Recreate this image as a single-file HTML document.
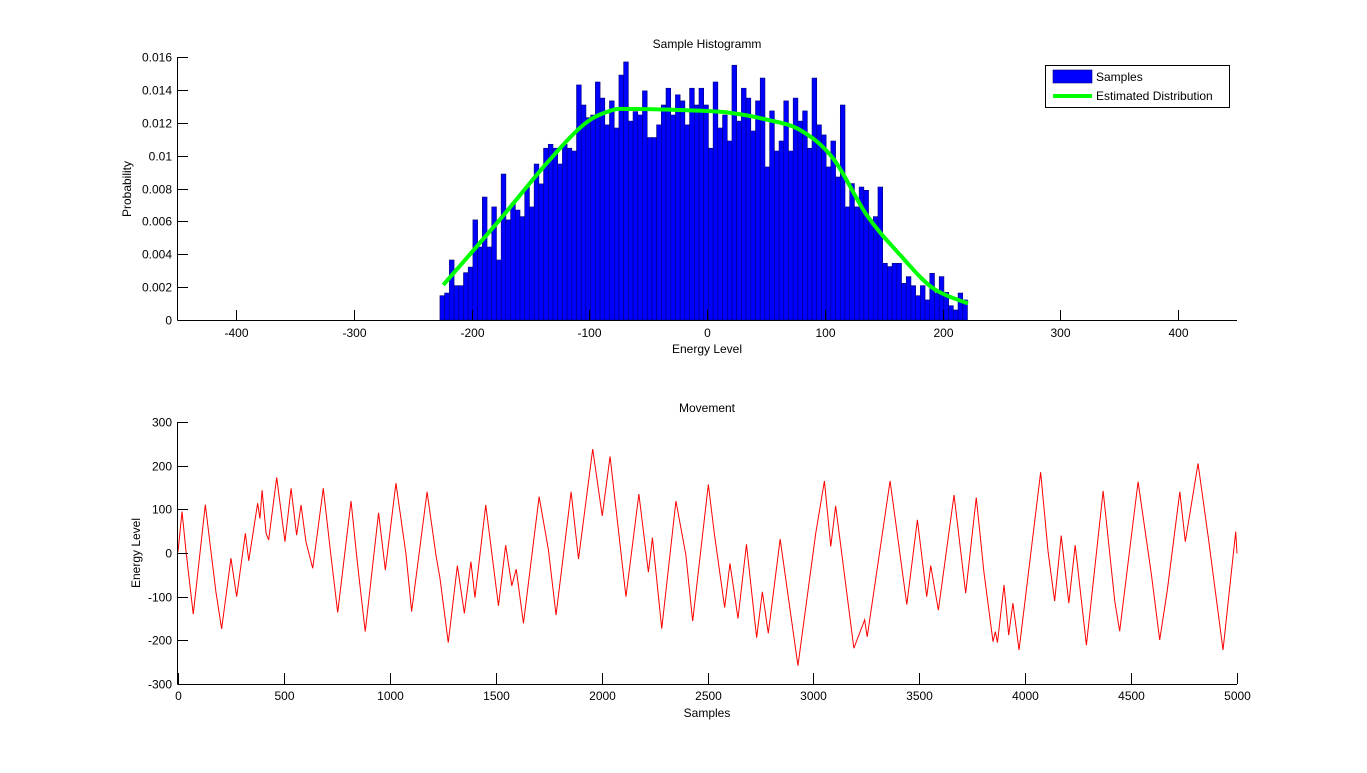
<!DOCTYPE html>
<html><head><meta charset="utf-8"><style>
body{margin:0;background:#fff;}
svg text{font-family:"Liberation Sans",Arial,sans-serif;font-size:12px;fill:#000;}
</style></head><body>
<svg id="fig" width="1367" height="768" viewBox="0 0 1367 768">
<rect width="1367" height="768" fill="#fff"/>
<g id="topchart"></g>
<g id="botchart"></g>
</svg>
<script>
const histValues=[1.48,1.64,3.65,2.09,2.09,2.88,3.22,6.09,4.44,7.48,4.44,6.88,3.65,8.88,6.09,7.08,6.69,6.29,8.07,6.88,9.49,8.28,10.45,10.69,10.45,9.49,10.69,10.45,10.28,14.3,13.08,12.31,12.47,14.48,13.5,11.87,13.33,11.68,14.9,15.7,12.1,12.68,12.47,13.94,11.1,11.1,11.87,13.08,14.1,12.47,13.7,13.33,11.87,14.1,13.08,14.1,13.08,10.45,14.48,11.68,12.47,10.89,15.5,12.1,14.1,13.5,11.5,13.33,14.72,9.31,12.72,10.28,10.89,13.33,10.28,13.5,12.1,12.72,10.45,14.72,11.87,11.26,9.31,10.89,8.7,13.08,6.88,8.3,6.88,8.09,7.89,6.09,6.29,8.09,3.45,3.25,3.45,3.45,2.23,2.64,2.09,1.48,2.09,1.22,2.84,1.64,2.64,1.68,0.87,0.61,1.64,1.22];
const binStart=-226.8, binWidth=4;
const fitX=[-224,-178.6,-136.2,-105,-82.4,-65,-8.7,20,50,79,107,135.6,164,192,221.6];
const fitY=[2.13,5.88,9.53,11.87,12.72,12.84,12.74,12.6,12.2,11.56,9.84,6.39,3.96,1.93,1.01];
const histXTicks=[-400,-300,-200,-100,0,100,200,300,400];
const histYTicks=[0,0.002,0.004,0.006,0.008,0.01,0.012,0.014,0.016];
const moveS=[0,19,38,72,129,148,179,206,250,277,318,334,376,387,397,416,428,466,505,534,560,581,604,636,686,718,754,817,848,884,947,979,1029,1077,1103,1176,1218,1237,1276,1319,1352,1383,1402,1453,1513,1547,1576,1597,1631,1705,1749,1785,1856,1891,1958,2003,2040,2115,2176,2221,2240,2284,2351,2398,2430,2504,2531,2581,2606,2644,2684,2732,2759,2787,2843,2927,3011,3052,3082,3105,3191,3242,3254,3362,3441,3491,3535,3554,3590,3664,3719,3769,3805,3848,3859,3869,3900,3922,3942,3971,4073,4108,4139,4170,4206,4236,4289,4368,4423,4446,4533,4596,4635,4671,4730,4756,4816,4866,4934,4994,5000];
const moveV=[3,95,3,-140,111,34,-89,-174,-12,-100,45,-18,114,79,144,45,30,173,26,148,41,110,26,-35,148,11,-136,119,-27,-180,92,-39,160,-5,-134,140,-5,-58,-205,-29,-138,-20,-102,110,-121,18,-75,-37,-161,129,7,-142,140,-14,238,85,221,-100,135,-44,35,-173,119,-5,-156,157,49,-125,-24,-150,20,-194,-89,-184,32,-258,45,165,15,108,-218,-153,-192,165,-118,76,-100,-29,-131,133,-92,127,-43,-203,-180,-205,-73,-188,-115,-222,185,3,-110,40,-115,18,-211,142,-111,-179,163,-50,-199,-85,140,26,205,30,-222,49,-1];
const moveXTicks=[0,500,1000,1500,2000,2500,3000,3500,4000,4500,5000];
const moveYTicks=[-300,-200,-100,0,100,200,300];

const NS='http://www.w3.org/2000/svg';
function mk(tag,attrs,parent){const e=document.createElementNS(NS,tag);for(const k in attrs)e.setAttribute(k,attrs[k]);parent.appendChild(e);return e;}
function txt(s,x,y,anchor,parent){const t=mk('text',{x:x,y:y,'text-anchor':anchor},parent);t.textContent=s;return t;}

const topG=document.getElementById('topchart');
const hx=v=>707+(v)*1.1775;
const hy=v=>320-v*16437.5;
const bars=mk('g',{},topG);


histValues.forEach((v,i)=>{
  const x0=hx(binStart+i*binWidth), x1=hx(binStart+(i+1)*binWidth);
  const r=mk('rect',{x:x0,y:hy(v/1000),width:x1-x0,height:320-hy(v/1000),fill:'#0000ff',stroke:'#00007a','stroke-width':0.6},bars);
  
  
});
let pts=fitX.map((x,i)=>[hx(x),hy(fitY[i]/1000)]);
let d='M'+pts[0][0]+','+pts[0][1];
for(let i=0;i<pts.length-1;i++){const p0=pts[Math.max(0,i-1)],p1=pts[i],p2=pts[i+1],p3=pts[Math.min(pts.length-1,i+2)];
 d+=` C${p1[0]+(p2[0]-p0[0])/6},${p1[1]+(p2[1]-p0[1])/6} ${p2[0]-(p3[0]-p1[0])/6},${p2[1]-(p3[1]-p1[1])/6} ${p2[0]},${p2[1]}`;}
const fit=mk('path',{d:d,fill:'none',stroke:'#00ff00','stroke-width':4,'stroke-linejoin':'round'},topG);


mk('line',{x1:177.5,y1:57,x2:177.5,y2:320.5,stroke:'#000'},topG);
mk('line',{x1:177.5,y1:320.5,x2:1237,y2:320.5,stroke:'#000'},topG);
histXTicks.forEach(v=>{const x=Math.round(hx(v))+0.5;mk('line',{x1:x,y1:320,x2:x,y2:310,stroke:'#000'},topG);
 const t=txt(String(v),x,337,'middle',topG);});
histYTicks.forEach(v=>{const y=Math.round(hy(v))+0.5;mk('line',{x1:178,y1:y,x2:188,y2:y,stroke:'#000'},topG);
 const t=txt(String(v),172,y+4,'end',topG);});
let t=txt('Sample Histogramm',707,48,'middle',topG);
t=txt('Energy Level',707,353,'middle',topG);
t=txt('Probability',0,0,'middle',topG);t.setAttribute('transform','translate(131,189) rotate(-90)');
const lg=mk('g',{},topG);


mk('rect',{x:1045.5,y:65.5,width:184,height:42,fill:'#fff',stroke:'#000'},lg);
mk('rect',{x:1053,y:70,width:39,height:13,fill:'#0000ff',stroke:'#00007a','stroke-width':0.6},lg);
t=txt('Samples',1096,81,'start',lg);
mk('line',{x1:1053,y1:96,x2:1092,y2:96,stroke:'#00ff00','stroke-width':4},lg);
t=txt('Estimated Distribution',1096,100,'start',lg);

const botG=document.getElementById('botchart');
const mx=s=>178+s*0.2118;
const my=v=>553-v*0.4367;
const ln=mk('polyline',{points:moveS.map((s,i)=>mx(s)+','+my(moveV[i])).join(' '),fill:'none',stroke:'#ff0000','stroke-width':1},botG);


mk('line',{x1:177.5,y1:422,x2:177.5,y2:684.5,stroke:'#000'},botG);
mk('line',{x1:177.5,y1:684.5,x2:1237,y2:684.5,stroke:'#000'},botG);
moveXTicks.forEach(v=>{const x=Math.round(mx(v))+0.5;mk('line',{x1:x,y1:684,x2:x,y2:673,stroke:'#000'},botG);
 const t=txt(String(v),x,700,'middle',botG);});
moveYTicks.forEach(v=>{const y=Math.round(my(v))+0.5;mk('line',{x1:178,y1:y,x2:188,y2:y,stroke:'#000'},botG);
 const t=txt(String(v),172,y+4,'end',botG);});
t=txt('Movement',707,412,'middle',botG);
t=txt('Samples',707,717,'middle',botG);
t=txt('Energy Level',0,0,'middle',botG);t.setAttribute('transform','translate(140,553) rotate(-90)');
</script>
</body></html>
